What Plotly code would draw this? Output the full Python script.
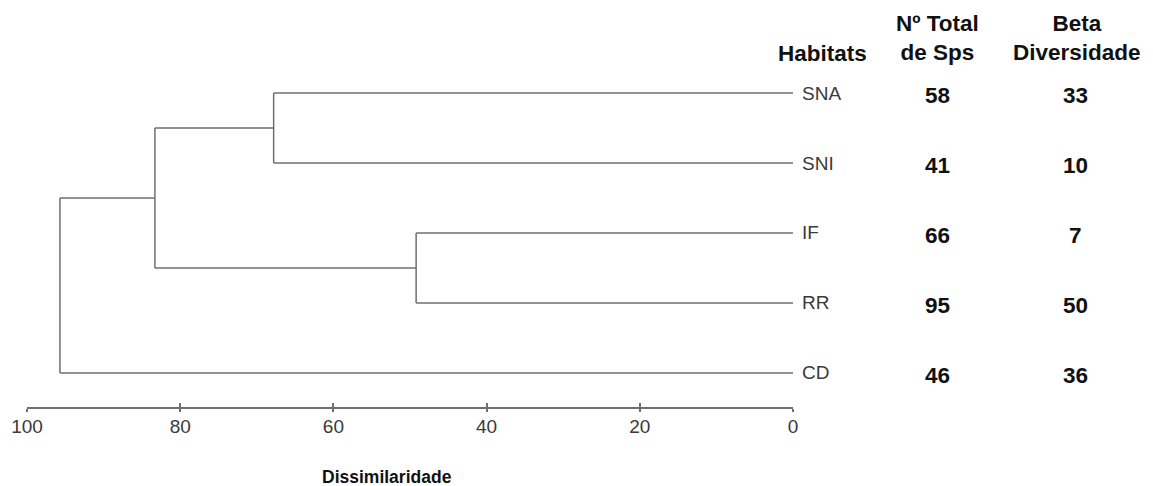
import plotly.graph_objects as go

# Habitats (top to bottom) and their table values
habitats = ["SNA", "SNI", "IF", "RR", "CD"]
total_sps = [58, 41, 66, 95, 46]
beta_div = [33, 10, 7, 50, 36]

# Cluster merges: (left child, right child, dissimilarity)
merges = [
    ("SNA", "SNI", 67.8),
    ("IF", "RR", 49.2),
    ("SNA+SNI", "IF+RR", 83.3),
    ("SNA+SNI+IF+RR", "CD", 95.7),
]

x_ticks = [100, 80, 60, 40, 20, 0]

LINE = "#6f6f6f"
FONT = "Liberation Sans, Arial, sans-serif"

# leaf vertical positions (top leaf highest)
ypos = {h: len(habitats) - i for i, h in enumerate(habitats)}
height = {h: 0.0 for h in habitats}

xs, ys = [], []
for a, b, d in merges:
    for c in (a, b):
        xs += [height[c], d, None]
        ys += [ypos[c], ypos[c], None]
    xs += [d, d, None]
    ys += [ypos[a], ypos[b], None]
    name = a + "+" + b
    ypos[name] = (ypos[a] + ypos[b]) / 2
    height[name] = d

y0 = 0.514
y1 = 6.043

fig = go.Figure()
fig.add_trace(go.Scatter(x=xs, y=ys, mode="lines",
                         line=dict(color=LINE, width=1.5),
                         hoverinfo="skip", showlegend=False))
# companion axis carrying the upward half of each tick mark
fig.add_trace(go.Scatter(x=[100, 0], y=[y0, y0], xaxis="x2",
                         mode="lines", line=dict(width=0), opacity=0,
                         showlegend=False, hoverinfo="skip"))

fig.update_layout(
    width=1153, height=486,
    margin=dict(l=27, r=360, t=20, b=79),
    paper_bgcolor="white", plot_bgcolor="white",
    xaxis=dict(range=[100, 0], tickvals=x_ticks, ticks="outside",
               ticklen=3, tickwidth=1.5, tickcolor=LINE,
               showline=True, linecolor=LINE, linewidth=1.5,
               showgrid=False, zeroline=False, ticklabelstandoff=-2,
               tickfont=dict(family=FONT, size=19, color="#3a3a3a")),
    xaxis2=dict(range=[100, 0], overlaying="x", anchor="free", position=0,
                side="bottom", tickvals=x_ticks, ticks="inside", ticklen=4,
                tickwidth=1.5, tickcolor=LINE, showticklabels=False,
                showgrid=False, zeroline=False, showline=False),
    yaxis=dict(range=[y0, y1], visible=False),
)


def px(d):
    """dissimilarity value -> paper x (axis runs from 100 to 0)"""
    return (100 - d) / 100


# leaf labels and table values
for h, n, b in zip(habitats, total_sps, beta_div):
    y = ypos[h]
    fig.add_annotation(x=px(-0.9), y=y, xref="paper", yref="y", text=h,
                       xanchor="left", yanchor="middle", showarrow=False,
                       font=dict(family=FONT, size=19, color="#3a3a3a"))
    fig.add_annotation(x=px(-18.9), y=y - 0.03, xref="paper", yref="y",
                       text=f"<b>{n}</b>", xanchor="center", yanchor="middle",
                       showarrow=False,
                       font=dict(family=FONT, size=22.5, color="#111111"))
    fig.add_annotation(x=px(-36.9), y=y - 0.03, xref="paper", yref="y",
                       text=f"<b>{b}</b>", xanchor="center", yanchor="middle",
                       showarrow=False,
                       font=dict(family=FONT, size=22.5, color="#111111"))

# column headers
hy = y0 + (407 - 53) / 70
fig.add_annotation(x=px(-3.8), y=hy, xref="paper", yref="y",
                   text="<b>Habitats</b>",
                   xanchor="center", yanchor="middle", showarrow=False,
                   font=dict(family=FONT, size=22.5, color="#111111"))
fig.add_annotation(x=px(-18.9), y=hy, xref="paper", yref="y",
                   text="<b>Nº Total</b><br><b>de Sps</b>",
                   xanchor="center", yanchor="bottom", yshift=-14,
                   showarrow=False,
                   font=dict(family=FONT, size=22.5, color="#111111"))
fig.add_annotation(x=px(-37.1), y=hy, xref="paper", yref="y",
                   text="<b>Beta</b><br><b>Diversidade</b>",
                   xanchor="center", yanchor="bottom", yshift=-14,
                   showarrow=False,
                   font=dict(family=FONT, size=22.5, color="#111111"))

# axis title
fig.add_annotation(x=px(53), y=-0.181, xref="paper", yref="paper",
                   text="<b>Dissimilaridade</b>", xanchor="center",
                   yanchor="middle", showarrow=False,
                   font=dict(family=FONT, size=17.5, color="#111111"))

fig.write_html("out.html")
